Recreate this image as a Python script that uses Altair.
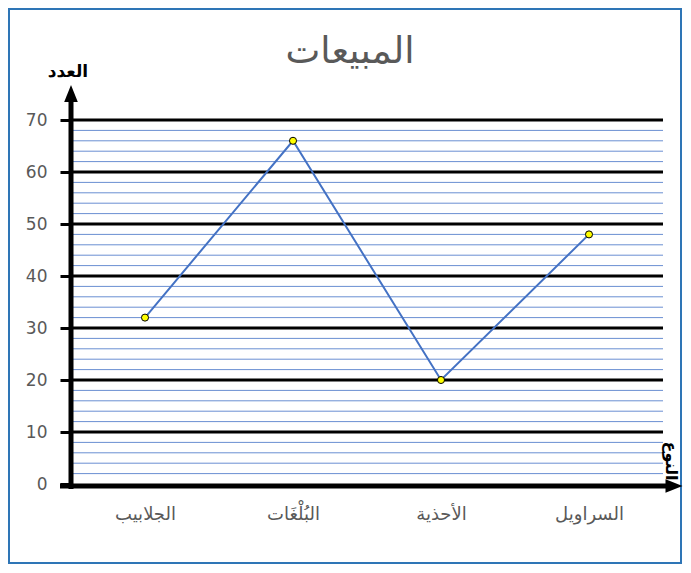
import altair as alt
import pandas as pd

categories = ["الجلابيب", "البُلْغَات", "الأحذية", "السراويل"]
values = [32, 66, 20, 48]
major_ticks = [0, 10, 20, 30, 40, 50, 60, 70]
minor_ticks = [v for v in range(2, 70, 2) if v % 10 != 0]
title_text = "المبيعات"
y_title = "العدد"
x_title = "النوع"

FONT = "DejaVu Sans"
W, H = 592, 364

df = pd.DataFrame({"cat": categories, "v": values})
df_minor = pd.DataFrame({"v": minor_ticks})
df_major = pd.DataFrame({"v": major_ticks[1:]})
one = pd.DataFrame({"a": [0]})

yscale = alt.Scale(domain=[0, 70], nice=False)
xscale = alt.Scale(paddingInner=0, paddingOuter=0)
yaxis = alt.Axis(values=major_ticks, title=None, domain=False, grid=False,
                 tickSize=11, tickWidth=3, tickColor="black",
                 labelFontSize=17, labelColor="#595959", labelPadding=13,
                 labelFont=FONT)
xaxis = alt.Axis(title=None, labelAngle=0, domain=False, ticks=False,
                 labelFontSize=18, labelColor="#595959", labelPadding=21,
                 labelFont=FONT)

border = alt.Chart(one).mark_rect(filled=False, stroke="#2E75B6", strokeWidth=2).encode(
    x=alt.value(-62), x2=alt.value(610), y=alt.value(-111), y2=alt.value(443)
)

minor = alt.Chart(df_minor).mark_rule(color="#6A8FD2", strokeWidth=1).encode(
    y=alt.Y("v:Q", scale=yscale, axis=yaxis), x=alt.value(0), x2=alt.value(W)
)

major = alt.Chart(df_major).mark_rule(color="black", strokeWidth=3).encode(
    y=alt.Y("v:Q", scale=yscale, axis=yaxis), x=alt.value(0), x2=alt.value(W)
)

yaxis_line = alt.Chart(one).mark_rule(color="black", strokeWidth=5).encode(
    x=alt.value(0), y=alt.value(369), y2=alt.value(-20)
)
xaxis_line = alt.Chart(one).mark_rule(color="black", strokeWidth=5).encode(
    x=alt.value(-11), x2=alt.value(600), y=alt.value(366)
)
y_arrow = alt.Chart(one).mark_point(
    shape="M-0.8,1L0,-1L0.8,1Z", filled=True, color="black", opacity=1, size=289
).encode(x=alt.value(0), y=alt.value(-26.5))
x_arrow = alt.Chart(one).mark_point(
    shape="M-1,-0.8L1,0L-1,0.8Z", filled=True, color="black", opacity=1, size=289
).encode(x=alt.value(603), y=alt.value(366))

line = alt.Chart(df).mark_line(color="#4472C4", strokeWidth=2).encode(
    x=alt.X("cat:N", sort=categories, scale=xscale, axis=xaxis),
    y=alt.Y("v:Q", scale=yscale, axis=yaxis),
)
points = alt.Chart(df).mark_point(
    filled=True, fill="#FFFF00", stroke="black", strokeWidth=1, size=50, opacity=1
).encode(
    x=alt.X("cat:N", sort=categories, scale=xscale, axis=xaxis),
    y=alt.Y("v:Q", scale=yscale, axis=yaxis),
)

title = alt.Chart(one).mark_text(
    text=title_text, font=FONT, fontSize=37, color="#595959", align="center", baseline="middle"
).encode(x=alt.value(279), y=alt.value(-68))

ytitle = alt.Chart(one).mark_text(
    text=y_title, font=FONT, fontSize=17, fontWeight="bold", color="black",
    align="center", baseline="middle"
).encode(x=alt.value(-3), y=alt.value(-48))

xtitle = alt.Chart(one).mark_text(
    text=x_title, font=FONT, fontSize=16, fontWeight="bold", color="black",
    align="center", baseline="middle", angle=90
).encode(x=alt.value(600), y=alt.value(341))

chart = alt.layer(
    border, minor, major, line, points, yaxis_line, xaxis_line, y_arrow, x_arrow,
    title, ytitle, xtitle
).properties(
    width=W, height=H,
    autosize=alt.AutoSizeParams(type="none"),
    padding={"left": 63, "top": 112, "right": 20, "bottom": 81},
    background="white",
).configure_view(stroke=None)

chart.save("out.html", embed_options={"renderer": "svg", "actions": False})
